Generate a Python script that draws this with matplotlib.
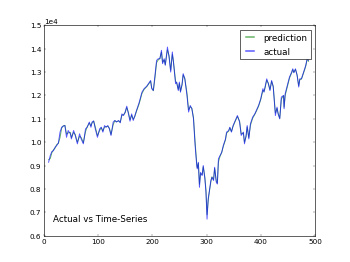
import matplotlib
matplotlib.use("Agg")
import matplotlib.pyplot as plt

x_vals = [9,12,15,18,21,24,27,30,33,36,
          39,42,45,49,51,55,58,62,66,69,
          73,77,80,84,87,89,92,95,99,103,
          106,109,112,115,118,121,124,128,131,134,
          138,141,144,147,150,153,156,159,162,165,
          168,171,176,181,185,190,193,197,199,202,
          205,208,211,214,217,219,222,224,228,231,
          234,237,239,243,245,248,250,252,255,257,
          260,264,267,270,273,276,279,282,283,285,
          287,289,292,294,297,299,301,303,305,308,
          310,313,315,318,320,322,325,328,331,335,
          337,341,343,346,349,353,357,361,364,368,
          370,373,375,378,381,385,389,392,396,400,
          404,406,408,411,414,417,420,423,427,430,
          432,435,438,442,443,445,449,453,457,459,
          461,464,467,470,472,475,478,481,483,486,
          488]

actual = [9143,9430,9600,9640,9790,9860,9970,10430,10640,10690,
          10710,10210,10500,10360,10140,10500,10290,9930,10360,10140,
          9930,10570,10640,10860,10640,10860,10910,10570,10210,10570,
          10640,10430,10710,10640,10710,10570,10290,10860,10930,10860,
          10930,10830,11210,11140,11290,11540,11210,10900,11210,10930,
          11140,11360,11710,12140,12290,12400,12500,12640,12290,12210,
          12860,13500,13570,13570,13930,13360,13570,13290,14070,13640,
          13000,13860,13430,12500,12570,12210,12570,12140,12500,12930,
          12710,12000,11290,11570,11430,11000,9860,9000,8860,9140,
          8070,8710,8570,9000,8430,7860,6710,7570,7860,8360,
          8500,8360,8930,8290,8210,9290,9430,9570,9860,10140,
          10430,10500,10640,10430,10710,10930,11140,10860,10290,10430,
          9930,10290,10710,10140,10790,11070,11210,11360,11570,11860,
          12290,12140,12360,12710,12500,12210,12640,12360,11140,11500,
          11210,11000,11930,12000,11430,12070,12430,12790,13000,13140,
          12970,13140,12860,12360,12710,12710,12930,13140,13290,13640,
          13500]

prediction = [9250,9300,9550,9680,9750,9900,9950,10200,10600,10700,
              10720,10350,10400,10420,10200,10420,10330,10000,10250,10200,
              9980,10450,10650,10820,10700,10820,10900,10650,10280,10500,
              10620,10480,10650,10660,10690,10600,10330,10750,10920,10880,
              10910,10850,11150,11170,11260,11480,11280,10960,11150,10980,
              11100,11330,11650,12080,12260,12380,12480,12610,12330,12200,
              12750,13400,13520,13580,13850,13420,13520,13320,13950,13700,
              13080,13750,13480,12600,12540,12260,12520,12180,12450,12880,
              12730,12100,11380,11520,11450,11060,10000,9100,8900,9100,
              8200,8650,8620,8950,8500,7950,6900,7450,7850,8300,
              8520,8400,8880,8350,8250,9150,9400,9550,9820,10100,
              10380,10480,10620,10460,10680,10900,11100,10900,10350,10400,
              10000,10250,10650,10200,10720,11020,11190,11330,11540,11820,
              12220,12170,12330,12650,12520,12250,12600,12400,11250,11450,
              11240,11020,11850,11990,11500,12000,12380,12740,12970,13100,
              12990,13110,12880,12420,12680,12700,12900,13100,13260,13580,
              13460]

plt.style.use("classic")
fig = plt.figure(figsize=(8, 6.011), dpi=43.75)
ax = fig.add_subplot(111)
ax.plot(x_vals, prediction, color="g", alpha=0.6, lw=1.6, label="prediction")
ax.plot(x_vals, actual, color="b", alpha=0.65, lw=1.6, label="actual")
ax.set_xlim(0, 500)
ax.set_ylim(6000, 15000)
ax.set_yticks([6000 + 1000 * i for i in range(10)])
ax.ticklabel_format(axis="y", style="sci", scilimits=(0, 0))
leg = ax.legend(loc="upper right", fontsize=14.4, handlelength=1.5)
for line in leg.get_lines():
    line.set_linewidth(2.5)
ax.text(0.033, 0.08, "Actual vs Time-Series", transform=ax.transAxes,
        fontsize=14.4, va="center", ha="left")
fig.savefig("out.png", dpi=43.75)
